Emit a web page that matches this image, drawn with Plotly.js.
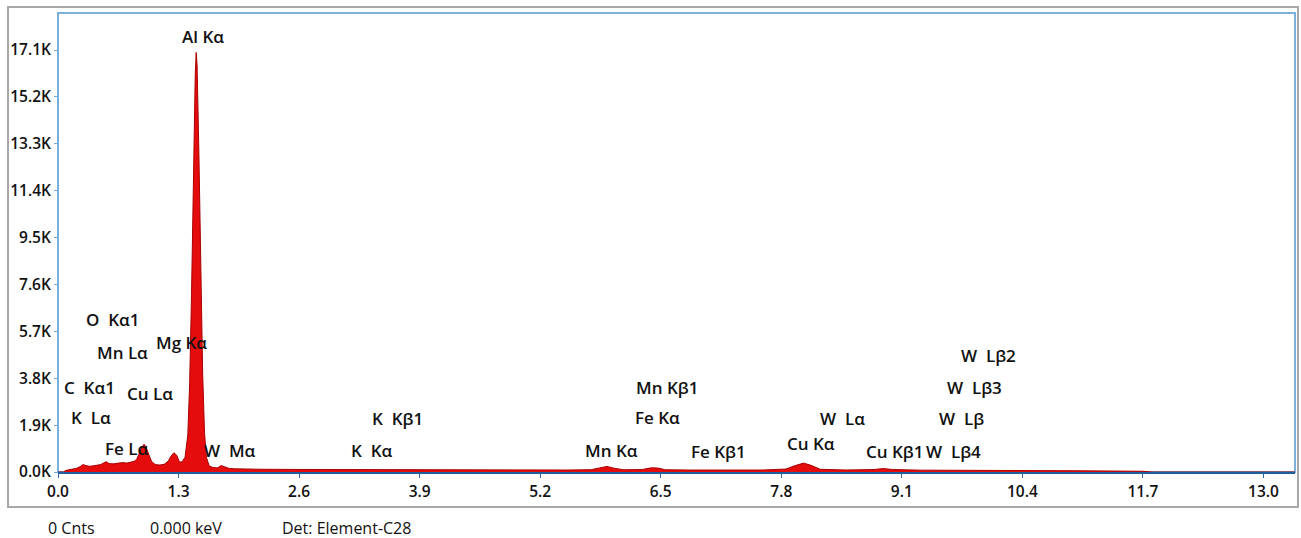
<!DOCTYPE html>
<html>
<head>
<meta charset="utf-8">
<script src="https://cdn.plot.ly/plotly-3.0.1.min.js"></script>
<style>
  html, body { margin: 0; padding: 0; background: #ffffff; }
  #chart { width: 1301px; height: 538px; }
</style>
</head>
<body>
<div id="chart"></div>
<script>
// Spectrum (energy in keV, counts)
const energy = [0.00, 0.06, 0.08, 0.12, 0.16, 0.20, 0.24, 0.27, 0.30, 0.34, 0.38, 0.42, 0.46, 0.50, 0.52, 0.55,
  0.60, 0.65, 0.70, 0.74, 0.78, 0.82, 0.85, 0.88, 0.91, 0.93, 0.95, 0.98, 1.01, 1.05, 1.10, 1.15,
  1.19, 1.22, 1.25, 1.28, 1.31, 1.34, 1.37, 1.40, 1.42, 1.44, 1.46, 1.48, 1.49, 1.50, 1.52, 1.54,
  1.56, 1.58, 1.60, 1.63, 1.67, 1.72, 1.76, 1.79, 1.84, 1.90, 2.0, 2.2, 2.5, 2.8, 3.1, 3.3, 3.5,
  3.7, 4.0, 4.5, 5.0, 5.5, 5.75, 5.85, 5.92, 6.0, 6.1, 6.3, 6.40, 6.47, 6.55, 6.8, 7.05, 7.2, 7.6,
  7.85, 7.95, 8.04, 8.12, 8.22, 8.5, 8.8, 8.9, 9.0, 9.3, 9.7, 10.0, 10.4, 11.0, 11.7, 11.8, 13.35];
const counts = [0, 0, 60, 90, 120, 150, 220, 300, 260, 230, 250, 270, 300, 380, 420, 340,
  330, 360, 380, 360, 380, 430, 520, 800, 1050, 1120, 1000, 700, 420, 300, 280, 320,
  450, 650, 780, 680, 400, 420, 600, 1500, 3600, 7200, 12000, 16100, 17000, 16500, 12800, 8000,
  4000, 1600, 600, 250, 180, 170, 260, 220, 150, 130, 120, 110, 105, 100, 95, 105, 100,
  95, 90, 85, 80, 80, 95, 170, 225, 150, 90, 100, 170, 160, 90, 80, 95, 80, 80,
  120, 260, 360, 270, 110, 80, 100, 140, 100, 75, 75, 70, 65, 50, 30, 0, 0];

// Peak labels
const peakLabels = ["Al K\u03b1", "O  K\u03b11", "Mn L\u03b1", "Mg K\u03b1", "C  K\u03b11", "Cu L\u03b1", "K  L\u03b1",
  "Fe L\u03b1", "W  M\u03b1", "K  K\u03b21", "K  K\u03b1", "Mn K\u03b1", "Mn K\u03b21", "Fe K\u03b1", "Fe K\u03b21",
  "Cu K\u03b1", "W  L\u03b1", "Cu K\u03b21", "W  L\u03b24", "W  L\u03b2", "W  L\u03b23", "W  L\u03b22"];
const peakLabelX = [1.559, 0.588, 0.696, 1.327, 0.345, 0.992, 0.356, 0.744, 1.855, 3.662, 3.387, 5.966, 6.564,
  6.467, 7.125, 8.117, 8.463, 9.03, 9.66, 9.746, 9.887, 10.03];
const peakLabelY = [17660, 6160, 4860, 5265, 3440, 3200, 2190, 970, 890, 2150, 890, 890, 3440,
  2190, 850, 1175, 2150, 850, 850, 2150, 3440, 4740];

// Axis ticks
const xTickVals = [0.0, 1.3, 2.6, 3.9, 5.2, 6.5, 7.8, 9.1, 10.4, 11.7, 13.0];
const xTickText = ["0.0", "1.3", "2.6", "3.9", "5.2", "6.5", "7.8", "9.1", "10.4", "11.7", "13.0"];
const yTickVals = [0, 1900, 3800, 5700, 7600, 9500, 11400, 13300, 15200, 17100];
const yTickText = ["0.0K", "1.9K", "3.8K", "5.7K", "7.6K", "9.5K", "11.4K", "13.3K", "15.2K", "17.1K"];

// Status bar texts
const statusTexts = ["0 Cnts", "0.000 keV", "Det: Element-C28"];

const FONT = "Open Sans, DejaVu Sans, sans-serif";

const trace = {
  x: energy,
  y: counts,
  type: "scatter",
  mode: "lines",
  fill: "tozeroy",
  fillcolor: "rgb(228,12,12)",
  line: { color: "rgb(170,0,0)", width: 1 },
  hoverinfo: "x+y"
};

const annotations = peakLabels.map((t, i) => ({
  x: peakLabelX[i], y: peakLabelY[i], xref: "x", yref: "y",
  text: t, showarrow: false,
  font: { family: FONT, size: 17, color: "#111111", weight: 600 },
  xanchor: "center", yanchor: "middle"
}));

const statusX = [0.0113, 0.1035, 0.2336];
statusTexts.forEach((t, i) => {
  annotations.push({
    x: statusX[i], y: -0.122, xref: "paper", yref: "paper",
    text: t, showarrow: false,
    font: { family: FONT, size: 16, color: "#111111" },
    xanchor: "center", yanchor: "middle"
  });
});

const layout = {
  width: 1301,
  height: 538,
  margin: { l: 58, r: 6, t: 13, b: 66 },
  paper_bgcolor: "#ffffff",
  plot_bgcolor: "#ffffff",
  showlegend: false,
  xaxis: {
    range: [0, 13.34],
    tickvals: xTickVals,
    ticktext: xTickText,
    ticks: "outside",
    ticklen: 4,
    tickcolor: "#2a6cb0",
    showgrid: false,
    zeroline: false,
    showline: true,
    linecolor: "#1f5f9f",
    linewidth: 2,
    tickfont: { family: FONT, size: 15.5, color: "#111111", weight: 600 },
    fixedrange: true
  },
  yaxis: {
    range: [0, 18600],
    tickvals: yTickVals,
    ticktext: yTickText,
    ticks: "outside",
    ticklen: 3,
    tickcolor: "#6fa8d8",
    showgrid: false,
    zeroline: false,
    showline: false,
    tickfont: { family: FONT, size: 15.5, color: "#111111", weight: 600 },
    fixedrange: true
  },
  shapes: [
    {
      type: "rect", xref: "paper", yref: "paper",
      x0: -0.0404, x1: 1.0024, y0: -0.0763, y1: 1.0131,
      line: { color: "#a8a8a8", width: 2 }, fillcolor: "rgba(0,0,0,0)", layer: "below"
    },
    {
      type: "rect", xref: "paper", yref: "paper",
      x0: 0, x1: 1, y0: 0, y1: 1,
      line: { color: "#7ab0dc", width: 2 }, fillcolor: "rgba(0,0,0,0)", layer: "below"
    }
  ],
  annotations: annotations
};

Plotly.newPlot("chart", [trace], layout, { displayModeBar: false, staticPlot: true });
</script>
</body>
</html>
